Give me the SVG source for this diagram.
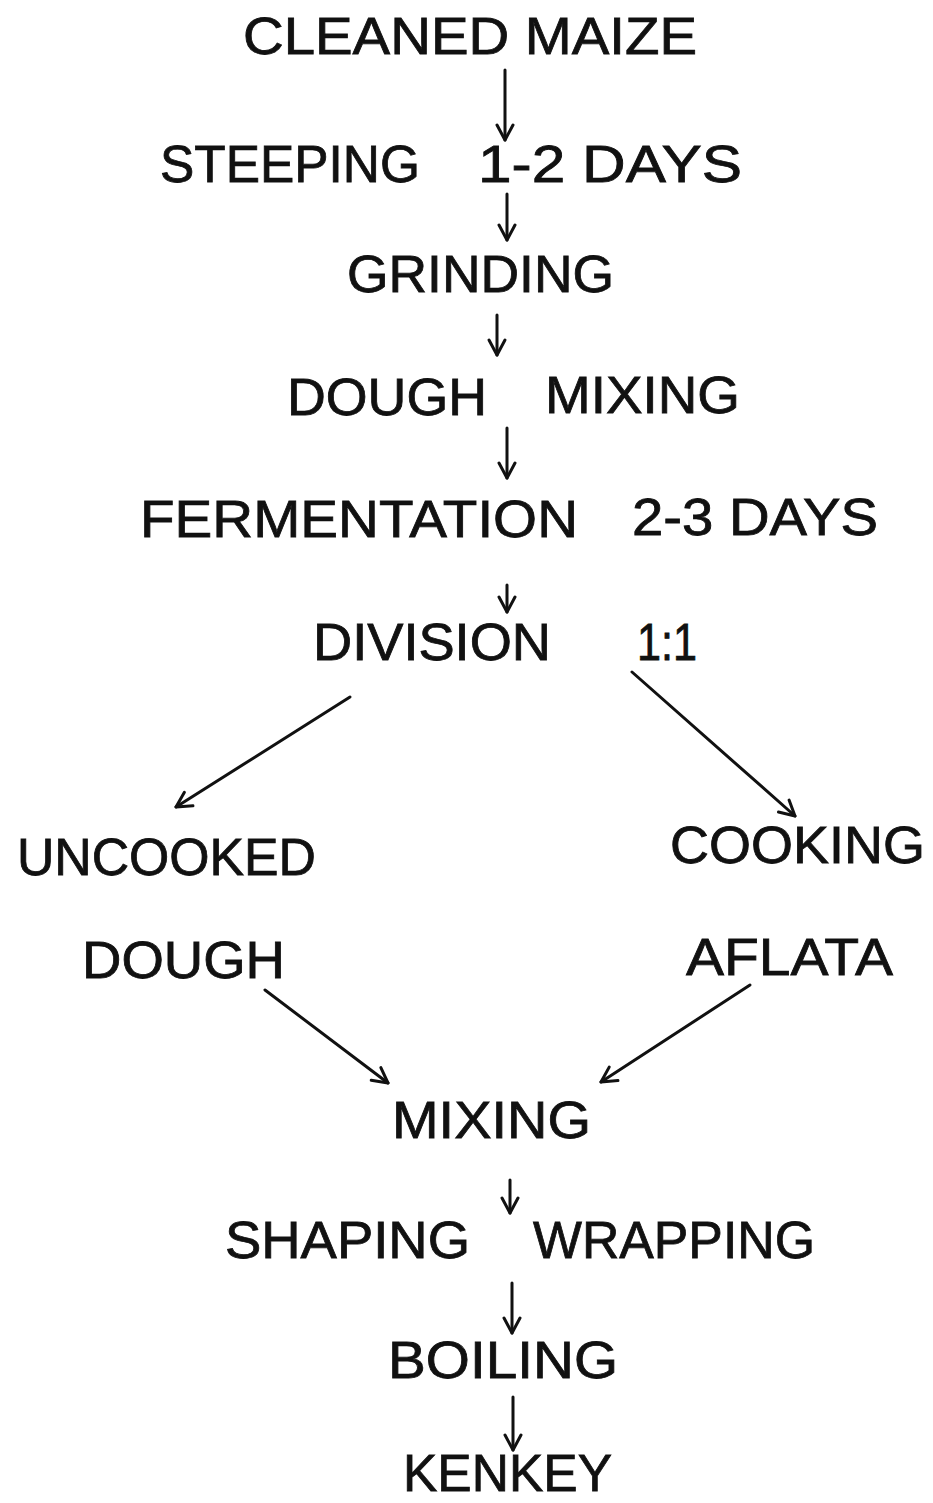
<svg xmlns="http://www.w3.org/2000/svg" width="933" height="1503" viewBox="0 0 933 1503">
<style>
  text { font-family: "Liberation Sans", "DejaVu Sans", sans-serif; font-size: 52px; fill: #111; stroke: #111; stroke-width: 0.8; }
  .c { stroke: #111; stroke-width: 3; fill: none; stroke-linecap: round; }
</style>
<defs>
  <marker id="ah" markerUnits="userSpaceOnUse" markerWidth="30" markerHeight="30" refX="0" refY="0" viewBox="-20 -15 30 30" orient="auto" overflow="visible">
    <path d="M-15,-8 L0,0 L-15,8" fill="none" stroke="#111" stroke-width="3" stroke-linecap="round" stroke-linejoin="round"/>
  </marker>
</defs>
<rect width="933" height="1503" fill="#fff"/>
<g id="n-cleaned"><text x="243" y="54" textLength="454" lengthAdjust="spacingAndGlyphs">CLEANED MAIZE</text></g>
<g id="n-steeping"><text x="160" y="182" textLength="260" lengthAdjust="spacingAndGlyphs">STEEPING</text><text x="478" y="182" textLength="264" lengthAdjust="spacingAndGlyphs">1-2 DAYS</text></g>
<g id="n-grinding"><text x="347" y="292" textLength="267" lengthAdjust="spacingAndGlyphs">GRINDING</text></g>
<g id="n-doughmix"><text x="287" y="415" textLength="200" lengthAdjust="spacingAndGlyphs">DOUGH</text><text x="545" y="413" textLength="195" lengthAdjust="spacingAndGlyphs">MIXING</text></g>
<g id="n-ferment"><text x="140" y="537" textLength="438" lengthAdjust="spacingAndGlyphs">FERMENTATION</text><text x="632" y="535" textLength="246" lengthAdjust="spacingAndGlyphs">2-3 DAYS</text></g>
<g id="n-division"><text x="313" y="660" textLength="238" lengthAdjust="spacingAndGlyphs">DIVISION</text><text x="637" y="660" textLength="60" lengthAdjust="spacingAndGlyphs">1:1</text></g>
<g id="n-uncooked"><text x="17" y="875" textLength="299" lengthAdjust="spacingAndGlyphs">UNCOOKED</text></g>
<g id="n-dough"><text x="82" y="978" textLength="203" lengthAdjust="spacingAndGlyphs">DOUGH</text></g>
<g id="n-cooking"><text x="670" y="863" textLength="255" lengthAdjust="spacingAndGlyphs">COOKING</text></g>
<g id="n-aflata"><text x="686" y="975" textLength="207" lengthAdjust="spacingAndGlyphs">AFLATA</text></g>
<g id="n-mixing"><text x="392" y="1138" textLength="199" lengthAdjust="spacingAndGlyphs">MIXING</text></g>
<g id="n-shaping"><text x="225" y="1258" textLength="245" lengthAdjust="spacingAndGlyphs">SHAPING</text><text x="533" y="1258" textLength="282" lengthAdjust="spacingAndGlyphs">WRAPPING</text></g>
<g id="n-boiling"><text x="388" y="1378" textLength="230" lengthAdjust="spacingAndGlyphs">BOILING</text></g>
<g id="n-kenkey"><text x="403" y="1491" font-size="50" textLength="209" lengthAdjust="spacingAndGlyphs">KENKEY</text></g>
<g id="connectors">
  <line class="c" x1="505" y1="70" x2="505" y2="140" marker-end="url(#ah)"/>
  <line class="c" x1="507" y1="194" x2="507" y2="240" marker-end="url(#ah)"/>
  <line class="c" x1="497" y1="315" x2="497" y2="355" marker-end="url(#ah)"/>
  <line class="c" x1="507" y1="428" x2="507" y2="478" marker-end="url(#ah)"/>
  <line class="c" x1="507" y1="585" x2="507" y2="612" marker-end="url(#ah)"/>
  <line class="c" x1="350" y1="697" x2="176" y2="807" marker-end="url(#ah)"/>
  <line class="c" x1="632" y1="672" x2="795" y2="816" marker-end="url(#ah)"/>
  <line class="c" x1="265" y1="990" x2="388" y2="1083" marker-end="url(#ah)"/>
  <line class="c" x1="750" y1="985" x2="601" y2="1082" marker-end="url(#ah)"/>
  <line class="c" x1="510" y1="1180" x2="510" y2="1213" marker-end="url(#ah)"/>
  <line class="c" x1="512" y1="1283" x2="512" y2="1333" marker-end="url(#ah)"/>
  <line class="c" x1="513" y1="1397" x2="513" y2="1450" marker-end="url(#ah)"/>
</g>
</svg>
